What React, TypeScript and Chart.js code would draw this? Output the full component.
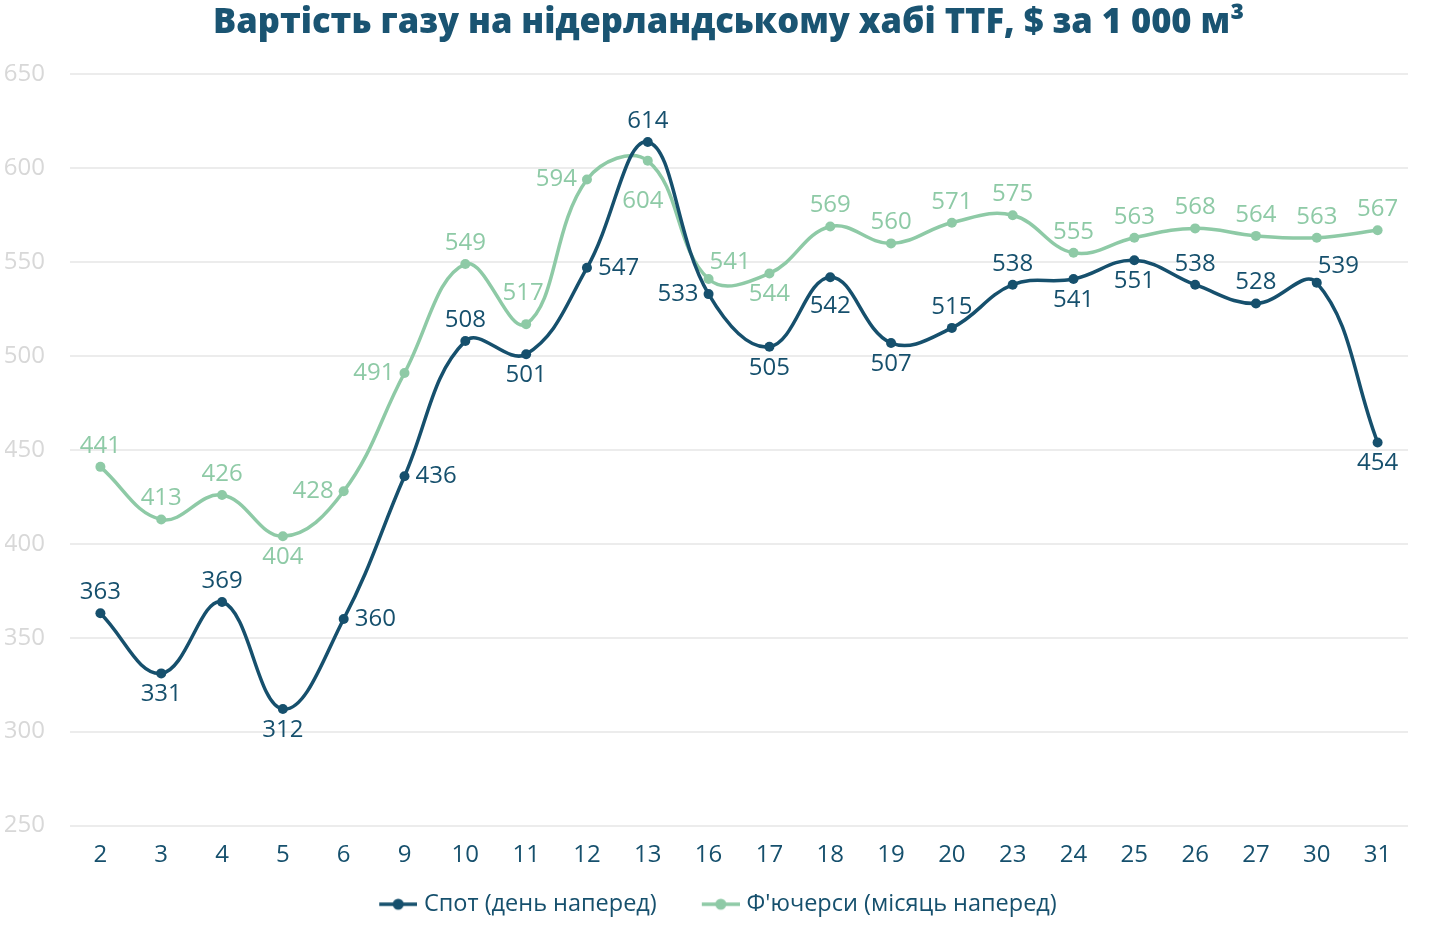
import { Chart, registerables, Plugin } from "chart.js";
import { useEffect, useRef } from "react";

Chart.register(...registerables);

const days = ["2", "3", "4", "5", "6", "9", "10", "11", "12", "13", "16", "17", "18", "19", "20", "23", "24", "25", "26", "27", "30", "31"];
const spotValues = [363, 331, 369, 312, 360, 436, 508, 501, 547, 614, 533, 505, 542, 507, 515, 538, 541, 551, 538, 528, 539, 454];
const futuresValues = [441, 413, 426, 404, 428, 491, 549, 517, 594, 604, 541, 544, 569, 560, 571, 575, 555, 563, 568, 564, 563, 567];
const yTicks = [250, 300, 350, 400, 450, 500, 550, 600, 650];

const DARK = "#16506d";
const LIGHT = "#8ecaa6";
const FONT = "'Open Sans', 'Noto Sans', sans-serif";

// where each value label sits relative to its point
const spotLabelPos = ["top", "bottom", "top", "bottom", "right", "right", "top", "bottom", "right", "top", "left", "bottom", "bottomFar", "bottom", "top", "top", "bottom", "bottom", "top", "top", "topRight", "bottom"];
const futuresLabelPos = ["top", "top", "top", "bottom", "left", "left", "top", "topFar", "left", "bottomFarther", "topRight", "bottom", "top", "top", "top", "top", "top", "top", "top", "top", "top", "top"];

const valueLabels: Plugin<"line"> = {
  id: "valueLabels",
  afterLayout(chart) {
    // title in the reference is centred over the plot, not the canvas
    const t = (chart as any).titleBlock;
    if (t) {
      t.left += 22;
      t.right += 22;
    }
  },
  afterDatasetsDraw(chart) {
    const ctx = chart.ctx;
    const posSets = [spotLabelPos, futuresLabelPos];
    ctx.save();
    ctx.font = `24px ${FONT}`;
    chart.data.datasets.forEach((ds, i) => {
      const meta = chart.getDatasetMeta(i);
      ctx.fillStyle = ds.borderColor as string;
      meta.data.forEach((el, j) => {
        const v = ds.data[j] as number;
        const pos = posSets[i][j];
        let x = el.x;
        let y = el.y;
        ctx.textBaseline = "middle";
        ctx.textAlign = "center";
        switch (pos) {
          case "top":
            y -= 21;
            break;
          case "topFar":
            x -= 3;
            y -= 31;
            break;
          case "bottom":
            y += 21;
            break;
          case "bottomFar":
            y += 29;
            break;
          case "bottomFarther":
            x -= 5;
            y += 40;
            break;
          case "left":
            x -= 10;
            ctx.textAlign = "right";
            break;
          case "right":
            x += 11;
            ctx.textAlign = "left";
            break;
          case "topRight":
            x += 1;
            y -= 17;
            ctx.textAlign = "left";
            break;
        }
        ctx.fillText(String(v), x, y);
      });
    });
    ctx.restore();
  },
};

const MARK_BOX = 56;

function legendMarker(color: string) {
  const c = document.createElement("canvas");
  c.width = MARK_BOX + 10;
  c.height = 14;
  const g = c.getContext("2d")!;
  const x0 = c.width - 38;
  g.strokeStyle = color;
  g.lineWidth = 3.5;
  g.beginPath();
  g.moveTo(x0, 7);
  g.lineTo(c.width, 7);
  g.stroke();
  g.fillStyle = color;
  g.beginPath();
  g.arc(x0 + 19, 7, 5.5, 0, Math.PI * 2);
  g.fill();
  return c;
}

export default function App() {
  const canvasRef = useRef<HTMLCanvasElement | null>(null);

  useEffect(() => {
    document.body.style.margin = "0";
    if (!canvasRef.current) return;
    const markers = [legendMarker(DARK), legendMarker(LIGHT)];

    const chart = new Chart(canvasRef.current, {
      type: "line",
      data: {
        labels: days,
        datasets: [
          {
            label: "Спот (день наперед)",
            data: spotValues,
            borderColor: DARK,
            backgroundColor: DARK,
            borderWidth: 3.5,
            pointRadius: 5,
            pointBackgroundColor: DARK,
            pointBorderWidth: 0,
            tension: 0.4,
          },
          {
            label: "Ф'ючерси (місяць наперед)",
            data: futuresValues,
            borderColor: LIGHT,
            backgroundColor: LIGHT,
            borderWidth: 3.5,
            pointRadius: 5,
            pointBackgroundColor: LIGHT,
            pointBorderWidth: 0,
            tension: 0.4,
          },
        ],
      },
      options: {
        responsive: false,
        animation: false,
        layout: { padding: { left: 5, right: 21, top: 0, bottom: 0 } },
        scales: {
          x: {
            offset: true,
            grid: { display: false, drawTicks: false },
            border: { display: false },
            ticks: { color: DARK, font: { family: FONT, size: 24 }, padding: 15 },
            afterFit: (axis) => {
              axis.height = 45;
            },
          },
          y: {
            min: 250,
            max: 650,
            afterBuildTicks: (axis) => {
              axis.ticks = yTicks.map((v) => ({ value: v }));
            },
            afterFit: (axis) => {
              axis.width = 65;
            },
            grid: { color: "#ececec", lineWidth: 2, drawTicks: false },
            border: { display: false },
            ticks: { color: "#d8d8d8", font: { family: FONT, size: 24 }, padding: 25 },
          },
        },
        plugins: {
          title: {
            display: true,
            text: "Вартість газу на нідерландському хабі TTF, $ за 1 000 м³",
            color: "#1a5472",
            font: { family: FONT, size: 34.5, weight: 800 },
            padding: { top: 2, bottom: 31 },
          },
          legend: {
            position: "bottom",
            labels: {
              usePointStyle: true,
              pointStyleWidth: MARK_BOX,
              color: DARK,
              font: { family: FONT, size: 23.5 },
              padding: 22,
              generateLabels: (c) =>
                Chart.defaults.plugins.legend.labels.generateLabels(c).map((item, i) => ({
                  ...item,
                  pointStyle: markers[i],
                  fontColor: DARK,
                })),
            },
          },
          tooltip: { enabled: false },
        },
      },
      plugins: [valueLabels],
    });

    return () => chart.destroy();
  }, []);

  return <canvas ref={canvasRef} width={1429} height={926} style={{ display: "block" }} />;
}
